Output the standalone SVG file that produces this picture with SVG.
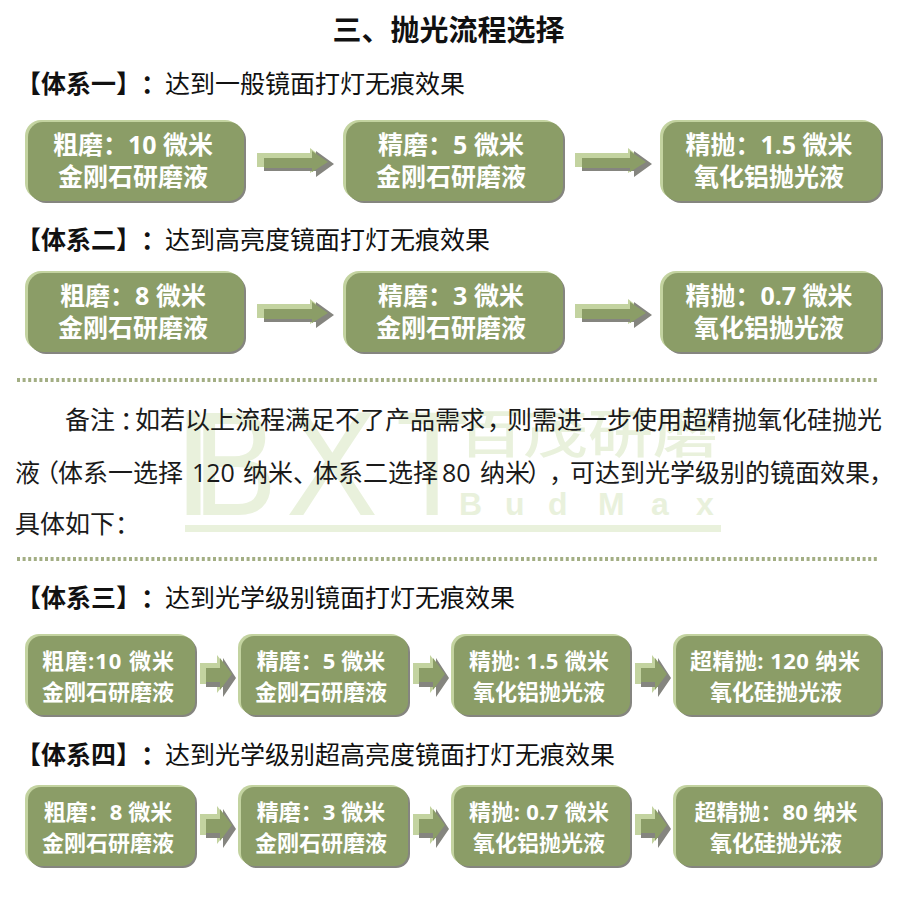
<svg xmlns="http://www.w3.org/2000/svg" xmlns:xlink="http://www.w3.org/1999/xlink" width="908" height="901" viewBox="0 0 908 901">
<style>
text{font-family:"Open Sans","Noto Sans CJK SC",sans-serif}
.t{font-family:"Noto Sans CJK SC",sans-serif;font-weight:700;font-size:29px;fill:#111}
.h{font-size:25px;fill:#111}
.hb{font-weight:700}
.b{font-size:25px;fill:#1a1a1a}
.n{font-size:25px;font-weight:700;fill:#fff;text-anchor:middle}
.s{font-size:22px}
.lt{fill:#c3d3a0}.gr{fill:#85857f}.ma{fill:#8b9d67}
.wm{fill:#e9f1dc}
.big{font-family:"Liberation Sans",sans-serif;font-size:148px}
.bm{font-family:"Liberation Sans",sans-serif;font-size:32px;font-weight:700}
.cn{font-family:"Noto Sans CJK SC",sans-serif;font-size:65px;font-weight:500}
.dot{stroke:#a3ae84;stroke-width:4;stroke-dasharray:3 2.6;fill:none}
</style>
<defs>
<g id="bigArrow"><path class="lt" d="M0 5H53V0L71 14L53 25V19H0Z"/><path class="gr" d="M7 10H59V3L77 16L59 29V23H7Z"/><path class="ma" d="M7 10H55V3L71 14L55 24V20H7Z"/></g>
<g id="smallArrow"><path class="lt" d="M0 8H17V0L32 19L17 38V29H0Z"/><path class="gr" d="M6 13H23V3L36 23L23 42V32H6Z"/><path class="ma" d="M6 13H20V3L32 19L20 35V27H6Z"/></g>
</defs>
<rect width="908" height="901" fill="#fff"/>
<g id="watermark">
<text class="wm big" x="173" y="515">I</text>
<text class="wm big" transform="translate(193,515) scale(.85,1)">B</text>
<text class="wm big" transform="translate(286,515) scale(.93,1)">X</text>
<text class="wm big" transform="translate(396,515) scale(.8,1)">T</text>
<text class="wm cn" transform="translate(458,453) scale(1,.8)">百茂研磨</text>
<text class="wm bm" y="515" x="459 505 548 598 651 696">BudMax</text>
<rect class="wm" x="185" y="525" width="536" height="7"/>
</g>
<text id="title" class="t" x="448.5" y="41" text-anchor="middle">三、抛光流程选择</text>
<g id="headings">
<text class="h" x="16" y="93"><tspan class="hb">【体系一】</tspan><tspan class="hb" x="141">：</tspan><tspan x="165">达到一般镜面打灯无痕效果</tspan></text>
<text class="h" x="16" y="249"><tspan class="hb">【体系二】</tspan><tspan class="hb" x="141">：</tspan><tspan x="165">达到高亮度镜面打灯无痕效果</tspan></text>
<text class="h" x="16" y="607"><tspan class="hb">【体系三】</tspan><tspan class="hb" x="141">：</tspan><tspan x="165">达到光学级别镜面打灯无痕效果</tspan></text>
<text class="h" x="16" y="764"><tspan class="hb">【体系四】</tspan><tspan class="hb" x="141">：</tspan><tspan x="165">达到光学级别超高亮度镜面打灯无痕效果</tspan></text>
</g>
<g id="separators">
<line class="dot" x1="17" y1="380" x2="879" y2="380"/>
<line class="dot" x1="17" y1="559" x2="879" y2="559"/>
</g>
<g id="note">
<text class="b" x="65" y="429">备注<tspan x="120">：</tspan><tspan x="135">如若以上流程满足不了产品需求</tspan><tspan x="487">，</tspan><tspan x="507">则需进一步使用超精抛氧化硅抛光</tspan></text>
<text class="b" x="15" y="482">液<tspan x="34">（</tspan><tspan x="58">体系一选择</tspan><tspan x="192">120</tspan><tspan x="243">纳米、</tspan><tspan x="313">体系二选择</tspan><tspan x="442">80</tspan><tspan x="480">纳米</tspan><tspan x="527">）</tspan><tspan x="549">，</tspan><tspan x="570">可达到光学级别的镜面效果</tspan><tspan x="869">，</tspan></text>
<text class="b" x="15" y="533">具体如下：</text>
</g>
<g id="connectors">
<use xlink:href="#bigArrow" href="#bigArrow" x="257" y="148"/>
<use xlink:href="#bigArrow" href="#bigArrow" x="575" y="148"/>
<use xlink:href="#bigArrow" href="#bigArrow" x="257" y="299"/>
<use xlink:href="#bigArrow" href="#bigArrow" x="575" y="299"/>
<use xlink:href="#smallArrow" href="#smallArrow" x="200" y="655"/>
<use xlink:href="#smallArrow" href="#smallArrow" x="413" y="655"/>
<use xlink:href="#smallArrow" href="#smallArrow" x="635" y="655"/>
<use xlink:href="#smallArrow" href="#smallArrow" x="200" y="806"/>
<use xlink:href="#smallArrow" href="#smallArrow" x="413" y="806"/>
<use xlink:href="#smallArrow" href="#smallArrow" x="635" y="806"/>
</g>
<g id="n1"><rect class="lt" x="25" y="120" width="216" height="79" rx="16"/><rect class="gr" x="30" y="124" width="216" height="79" rx="16"/><rect class="ma" x="28" y="122" width="216" height="79" rx="15"/><text class="n" x="133" y="154">粗磨：10 微米</text><text class="n" x="133" y="186">金刚石研磨液</text></g>
<g id="n2"><rect class="lt" x="343" y="120" width="217" height="79" rx="16"/><rect class="gr" x="348" y="124" width="217" height="79" rx="16"/><rect class="ma" x="346" y="122" width="217" height="79" rx="15"/><text class="n" x="451" y="154">精磨：5 微米</text><text class="n" x="451" y="186">金刚石研磨液</text></g>
<g id="n3"><rect class="lt" x="660" y="120" width="218" height="79" rx="16"/><rect class="gr" x="665" y="124" width="218" height="79" rx="16"/><rect class="ma" x="663" y="122" width="218" height="79" rx="15"/><text class="n" x="769" y="154">精抛：1.5 微米</text><text class="n" x="769" y="186">氧化铝抛光液</text></g>
<g id="n4"><rect class="lt" x="25" y="271" width="216" height="79" rx="16"/><rect class="gr" x="30" y="275" width="216" height="79" rx="16"/><rect class="ma" x="28" y="273" width="216" height="79" rx="15"/><text class="n" x="133" y="305">粗磨：8 微米</text><text class="n" x="133" y="337">金刚石研磨液</text></g>
<g id="n5"><rect class="lt" x="343" y="271" width="217" height="79" rx="16"/><rect class="gr" x="348" y="275" width="217" height="79" rx="16"/><rect class="ma" x="346" y="273" width="217" height="79" rx="15"/><text class="n" x="451" y="305">精磨：3 微米</text><text class="n" x="451" y="337">金刚石研磨液</text></g>
<g id="n6"><rect class="lt" x="660" y="271" width="218" height="79" rx="16"/><rect class="gr" x="665" y="275" width="218" height="79" rx="16"/><rect class="ma" x="663" y="273" width="218" height="79" rx="15"/><text class="n" x="769" y="305">精抛：0.7 微米</text><text class="n" x="769" y="337">氧化铝抛光液</text></g>
<g id="n7"><rect class="lt" x="25" y="634" width="167" height="79" rx="14"/><rect class="gr" x="30" y="638" width="167" height="79" rx="14"/><rect class="ma" x="28" y="636" width="167" height="79" rx="13"/><text class="n s" x="108" y="669" textLength="132">粗磨:10 微米</text><text class="n s" x="108" y="700">金刚石研磨液</text></g>
<g id="n8"><rect class="lt" x="238" y="634" width="167" height="79" rx="14"/><rect class="gr" x="243" y="638" width="167" height="79" rx="14"/><rect class="ma" x="241" y="636" width="167" height="79" rx="13"/><text class="n s" x="321" y="669">精磨：5 微米</text><text class="n s" x="321" y="700">金刚石研磨液</text></g>
<g id="n9"><rect class="lt" x="451" y="634" width="176" height="79" rx="14"/><rect class="gr" x="456" y="638" width="176" height="79" rx="14"/><rect class="ma" x="454" y="636" width="176" height="79" rx="13"/><text class="n s" x="539" y="669" textLength="140">精抛: 1.5 微米</text><text class="n s" x="539" y="700">氧化铝抛光液</text></g>
<g id="n10"><rect class="lt" x="673" y="634" width="205" height="79" rx="14"/><rect class="gr" x="678" y="638" width="205" height="79" rx="14"/><rect class="ma" x="676" y="636" width="205" height="79" rx="13"/><text class="n s" x="775" y="669" textLength="170">超精抛: 120 纳米</text><text class="n s" x="776" y="700">氧化硅抛光液</text></g>
<g id="n11"><rect class="lt" x="25" y="785" width="167" height="79" rx="14"/><rect class="gr" x="30" y="789" width="167" height="79" rx="14"/><rect class="ma" x="28" y="787" width="167" height="79" rx="13"/><text class="n s" x="108" y="820">粗磨：8 微米</text><text class="n s" x="108" y="851">金刚石研磨液</text></g>
<g id="n12"><rect class="lt" x="238" y="785" width="167" height="79" rx="14"/><rect class="gr" x="243" y="789" width="167" height="79" rx="14"/><rect class="ma" x="241" y="787" width="167" height="79" rx="13"/><text class="n s" x="321" y="820">精磨：3 微米</text><text class="n s" x="321" y="851">金刚石研磨液</text></g>
<g id="n13"><rect class="lt" x="451" y="785" width="176" height="79" rx="14"/><rect class="gr" x="456" y="789" width="176" height="79" rx="14"/><rect class="ma" x="454" y="787" width="176" height="79" rx="13"/><text class="n s" x="539" y="820" textLength="140">精抛: 0.7 微米</text><text class="n s" x="539" y="851">氧化铝抛光液</text></g>
<g id="n14"><rect class="lt" x="673" y="785" width="205" height="79" rx="14"/><rect class="gr" x="678" y="789" width="205" height="79" rx="14"/><rect class="ma" x="676" y="787" width="205" height="79" rx="13"/><text class="n s" x="776" y="820">超精抛：80 纳米</text><text class="n s" x="776" y="851">氧化硅抛光液</text></g>
</svg>
